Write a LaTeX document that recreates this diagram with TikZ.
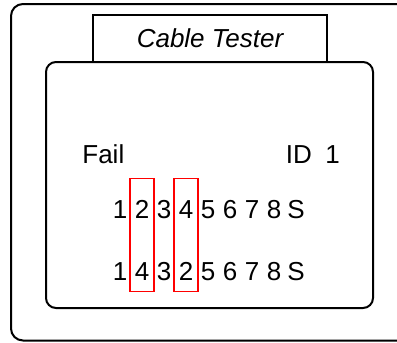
\documentclass[tikz,border=0pt]{standalone}
\usepackage{fontspec}
\setmainfont{Liberation Sans}
\usepackage{tikz}
\usetikzlibrary{positioning,fit}

\tikzset{
  casing/.style={draw, line width=1pt, rounded corners=6pt},
  screenbox/.style={draw, line width=1pt, rounded corners=5pt, inner sep=0pt},
  titlebox/.style={draw, line width=0.8pt, inner sep=0pt, font=\fontsize{13}{15}\selectfont\itshape},
  readout/.style={inner sep=0pt, anchor=base west},
  pin/.style={inner sep=0pt, minimum width=11.5pt, text height=19.5pt, text depth=5.5pt, anchor=base},
  failbox/.style={draw=red, line width=0.8pt, inner sep=0pt},
}

\begin{document}
\begin{tikzpicture}[x=0.5pt, y=-0.5pt, font=\fontsize{13}{15}\selectfont]
    \useasboundingbox (0,0) rectangle (397,343);
    \clip (0,0) rectangle (397,343);

    % tester body, runs off the right edge
    \draw[casing] (11,4) rectangle (440,340.5);

    % display and label
    \node[screenbox, minimum width=163.5pt, minimum height=123pt] (screen) at (209.5,185) {};
    \node[titlebox, minimum width=117pt, minimum height=23.5pt] (title) at (210,38.5) {Cable Tester};

    \node[readout] (fail) at (82,163) {Fail};
    \node[readout] (id) at (285.5,163) {ID};
    \node[readout] (idnum) at (325,163) {1};

    % wire map, top row = near end, bottom row = far end
    \foreach \d [count=\i] in {1,2,3,4,5,6,7,8,S}
      \node[pin] (t\i) at ({98+22*\i},218) {\d};
    \foreach \d [count=\i] in {1,4,3,2,5,6,7,8,S}
      \node[pin] (b\i) at ({98+22*\i},280) {\d};

    % crossed pair
    \node[failbox, fit=(t2)(b2)] (cross1) {};
    \node[failbox, fit=(t4)(b4)] (cross2) {};
\end{tikzpicture}
\end{document}
